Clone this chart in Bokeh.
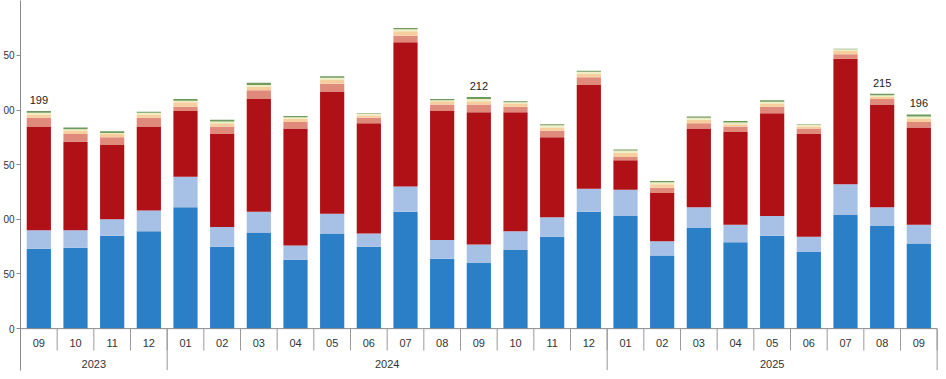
from bokeh.plotting import figure
from bokeh.models import ColumnDataSource, Range1d, FixedTicker
from bokeh.embed import file_html
from bokeh.resources import INLINE
from bokeh.core.properties import value

months = ["09", "10", "11", "12", "01", "02", "03", "04", "05", "06", "07", "08",
          "09", "10", "11", "12", "01", "02", "03", "04", "05", "06", "07", "08", "09"]
years = ["2023"] * 4 + ["2024"] * 12 + ["2025"] * 9

blue      = [73, 74, 85, 89, 111, 75, 88, 63, 87, 75, 107, 64, 60, 72, 84, 107, 103, 67, 92, 79, 85, 70, 104, 94, 78]
lightblue = [17, 16, 15, 19, 28, 18, 19, 13, 18, 12, 23, 17, 17, 17, 18, 21, 24, 13, 19, 16, 18, 14, 28, 17, 17]
darkred   = [95, 81, 68, 77, 60, 85, 103, 107, 112, 101, 132, 118, 121, 109, 73, 95, 27, 44, 72, 85, 94, 94, 115, 94, 89]
salmon    = [8, 7, 7, 8, 4, 7, 8, 6, 7, 5, 6, 6, 7, 5, 6, 7, 3, 5, 5, 5, 6, 5, 4, 5, 5]
peach     = [3, 3, 3, 3, 4, 3, 3, 3, 4, 2, 4, 3, 3, 3, 3, 3, 4, 3, 3, 2, 3, 2, 3, 2, 3]
pale      = [1.5, 1.5, 1, 1.5, 1.5, 1.5, 2, 1.5, 1.5, 1.5, 2, 1, 2, 1, 2, 2, 2, 2, 2, 1.5, 1.5, 1.5, 1.5, 1.5, 2]
green     = [1.5, 1.5, 1.5, 1, 1.5, 1.5, 2, 1, 1.5, 0.5, 1, 1, 2, 1, 1, 1, 1, 1, 1, 1.5, 1.5, 0.5, 0.5, 1.5, 2]

label_index = [0, 12, 23, 24]
label_text = ["199", "212", "215", "196"]

y_ticks = [0, 50, 100, 150, 200, 250]
y_tick_text = {0: "0", 50: "50", 100: "00", 150: "50", 200: "00", 250: "50"}

series = ["blue", "lightblue", "darkred", "salmon", "peach", "pale", "green"]
colors = ["#2b7fc6", "#a6c0e6", "#b01116", "#df8a7b", "#f7cf9e", "#eeeec2", "#6e9a5c"]

n = len(months)
xs = list(range(n))
src = ColumnDataSource(dict(x=xs, blue=blue, lightblue=lightblue, darkred=darkred,
                            salmon=salmon, peach=peach, pale=pale, green=green))

p = figure(width=944, height=377, output_backend="svg", toolbar_location=None,
           x_range=Range1d(-0.5, 24.7), y_range=Range1d(-44.7, 300.2),
           x_axis_location=None, min_border_top=0, min_border_bottom=0,
           min_border_right=0, min_border_left=2)
p.outline_line_color = None
p.grid.visible = False
p.background_fill_color = "white"

p.vbar_stack(series, x="x", width=0.66, color=colors, line_color=None, source=src)

# baseline
p.segment(x0=[-0.5], y0=[0], x1=[n - 0.5], y1=[0], line_color="#8a8a8a", line_width=1)

# month separators
sep_x = [i + 0.5 for i in range(n)]
p.segment(x0=sep_x, y0=[0] * n, x1=sep_x, y1=[-20] * n, line_color="#9a9a9a", line_width=1)

# year separators
ysep = [i + 0.5 for i in range(n - 1) if years[i] != years[i + 1]] + [n - 0.5]
p.segment(x0=ysep, y0=[0] * len(ysep), x1=ysep, y1=[-38] * len(ysep),
          line_color="#9a9a9a", line_width=1)

# month labels
p.text(x=xs, y=[-13] * n, text=months, text_align="center", text_baseline="middle",
       text_font=value("Liberation Sans"), text_font_size="11px", text_color="#333333")

# year labels
uniq = []
for y in years:
    if y not in uniq:
        uniq.append(y)
yx = []
for y in uniq:
    idx = [i for i in range(n) if years[i] == y]
    yx.append((idx[0] + idx[-1]) / 2)
p.text(x=yx, y=[-32] * len(uniq), text=uniq, text_align="center", text_baseline="middle",
       text_font=value("Liberation Sans"), text_font_size="11px", text_color="#333333")

# totals
totals = [blue[i] + lightblue[i] + darkred[i] + salmon[i] + peach[i] + pale[i] + green[i] for i in range(n)]
p.text(x=label_index, y=[totals[i] for i in label_index], text=label_text,
       text_align="center", text_baseline="bottom", y_offset=-7,
       text_font=value("Liberation Sans"), text_font_size="11px", text_color="#222222")

ax = p.yaxis[0]
ax.ticker = FixedTicker(ticks=y_ticks)
ax.major_label_overrides = y_tick_text
ax.minor_tick_line_color = None
ax.major_tick_in = 0
ax.major_tick_out = 4
ax.axis_line_color = "#8a8a8a"
ax.major_tick_line_color = "#8a8a8a"
ax.major_label_text_font = "Liberation Sans"
ax.major_label_text_font_size = "10px"
ax.major_label_text_color = "#333333"
ax.major_label_standoff = 2
ax.bounds = (-38, 300.2)

open("out.html", "w").write(file_html(p, INLINE))
